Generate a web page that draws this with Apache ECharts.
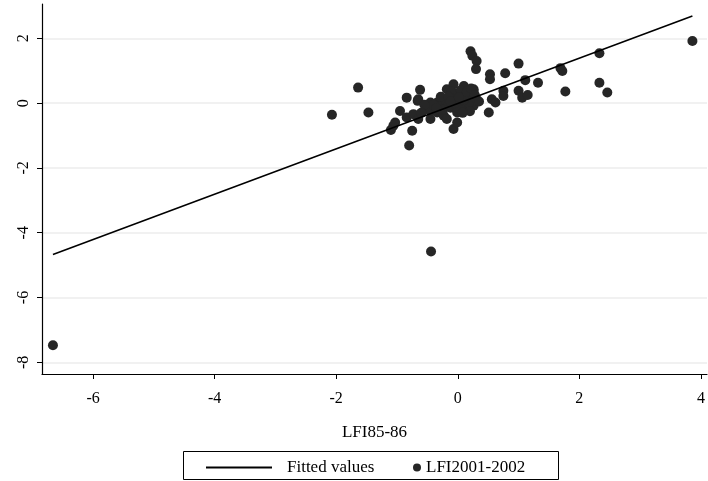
<!DOCTYPE html>
<html>
<head>
<meta charset="utf-8">
<script src="https://cdn.jsdelivr.net/npm/echarts@6/dist/echarts.min.js"></script>
<style>
  html, body { margin: 0; padding: 0; background: #fff; }
  #chart { width: 708px; height: 481px; }
</style>
</head>
<body>
<div id="chart"></div>
<script>
// tick labels
const xTicks = [-6, -4, -2, 0, 2, 4];
const yTicks = [-8, -6, -4, -2, 0, 2];

// fitted line end points
const fitX = [-6.66, 3.86];
const fitY = [-4.67, 2.69];

// LFI85-86 vs LFI2001-2002
const points = [
  [-6.66, -7.47], [-0.44, -4.58], [3.86, 1.92],
  [-2.07, -0.36], [-1.64, 0.48], [-1.47, -0.29],
  [-1.10, -0.83], [-1.06, -0.70], [-1.03, -0.60], [-0.95, -0.24],
  [-0.84, 0.17], [-0.84, -0.44], [-0.80, -1.31], [-0.75, -0.85],
  [-0.73, -0.34], [-0.65, -0.49], [-0.66, 0.07], [-0.65, 0.12],
  [-0.62, 0.41], [-0.53, -0.19], [-0.45, 0.02], [-0.45, -0.49],
  [-0.45, -0.24], [-0.34, -0.29], [-0.34, 0.02], [-0.26, 0.07],
  [-0.23, -0.39], [-0.18, 0.43], [-0.18, -0.49], [-0.12, -0.14],
  [-0.07, 0.58], [-0.07, 0.22], [-0.07, -0.80], [-0.01, -0.29],
  [-0.01, -0.60], [0.04, 0.02], [0.10, 0.53], [0.10, -0.19],
  [0.15, 0.12], [0.26, 0.43], [0.26, 0.38], [0.26, -0.08],
  [0.21, 1.60], [0.24, 1.46], [0.31, 1.30], [0.30, 1.05],
  [0.53, 0.89], [0.53, 0.74], [0.78, 0.92], [1.00, 1.22],
  [1.11, 0.71], [1.32, 0.63], [0.51, -0.29], [0.56, 0.12],
  [0.62, 0.02], [0.75, 0.38], [0.75, 0.22], [1.00, 0.38],
  [1.06, 0.17], [1.15, 0.25], [1.69, 1.08], [1.72, 0.99],
  [1.77, 0.36], [2.33, 1.54], [2.33, 0.63], [2.46, 0.33],
  [-0.30, -0.10], [-0.20, 0.10], [-0.15, -0.05], [-0.05, 0.10],
  [0.00, 0.30], [0.05, -0.10], [0.12, 0.30], [0.20, 0.20],
  [0.18, 0.00], [-0.10, 0.35], [0.30, 0.15], [-0.40, -0.05],
  [0.05, 0.40], [-0.28, 0.20], [0.20, -0.25], [0.35, 0.05],
  [-0.55, -0.05], [-0.60, -0.30],
  [-0.25, -0.20], [-0.15, 0.20], [0.00, -0.15], [0.10, 0.10],
  [0.15, 0.35], [0.22, 0.45], [-0.05, 0.00], [0.08, -0.30],
  [-0.35, -0.15], [0.28, 0.25], [-0.12, 0.05], [0.02, 0.18]
];

const font = 'Liberation Serif';
const chart = echarts.init(document.getElementById('chart'));

chart.setOption({
  animation: false,
  backgroundColor: '#fff',
  textStyle: { fontFamily: font, color: '#000' },
  grid: { left: 42, right: 1, top: 4, bottom: 107 },
  xAxis: {
    type: 'value',
    min: -6.84,
    max: 4.1,
    name: 'LFI85-86',
    nameLocation: 'middle',
    nameGap: 50,
    nameTextStyle: { fontFamily: font, fontSize: 17, color: '#000' },
    axisLine: { show: true, onZero: false, lineStyle: { color: '#000', width: 1.2 } },
    axisTick: { show: true, length: 5, customValues: xTicks, lineStyle: { color: '#000' } },
    axisLabel: { customValues: xTicks, margin: 17, fontFamily: font, fontSize: 16, color: '#000' },
    splitLine: { show: false }
  },
  yAxis: {
    type: 'value',
    min: -8.36,
    max: 3.06,
    axisLine: { show: true, onZero: false, lineStyle: { color: '#000', width: 1.2 } },
    axisTick: { show: true, length: 5, customValues: yTicks, lineStyle: { color: '#000' } },
    axisLabel: { customValues: yTicks, rotate: 90, margin: 10, fontFamily: font, fontSize: 16, color: '#000' },
    splitLine: { show: false }
  },
  legend: [
    {
      data: [{ name: 'Fitted values', icon: 'rect' }],
      left: 201, top: 454,
      itemWidth: 66, itemHeight: 2,
      textStyle: { fontFamily: font, fontSize: 17, color: '#000', padding: [0, 0, 0, 10] },
      selectedMode: false
    },
    {
      data: ['LFI2001-2002'],
      left: 408, top: 454,
      itemWidth: 8, itemHeight: 8,
      textStyle: { fontFamily: font, fontSize: 17, color: '#000' },
      selectedMode: false
    }
  ],
  graphic: [{
    type: 'rect',
    shape: { x: 183.5, y: 451.5, width: 375, height: 28 },
    style: { fill: 'none', stroke: '#000', lineWidth: 1 },
    silent: true
  }],
  series: [
    {
      name: 'LFI2001-2002',
      type: 'scatter',
      symbol: 'circle',
      symbolSize: 10,
      itemStyle: { color: '#262626', opacity: 1 },
      data: points,
      markLine: {
        silent: true,
        symbol: 'none',
        label: { show: false },
        lineStyle: { color: '#ececec', width: 1.5, type: 'solid' },
        data: yTicks.map(v => ({ yAxis: v })),
        z: 0
      },
      z: 3
    },
    {
      name: 'Fitted values',
      type: 'line',
      symbol: 'none',
      lineStyle: { color: '#000', width: 1.6 },
      itemStyle: { color: '#000' },
      data: fitX.map((x, i) => [x, fitY[i]]),
      z: 4
    }
  ]
});
</script>
</body>
</html>
